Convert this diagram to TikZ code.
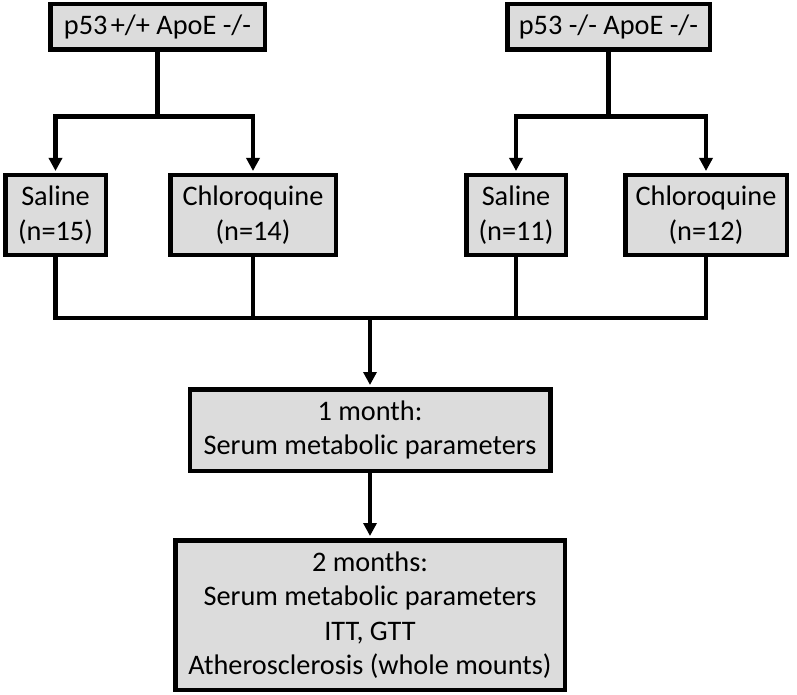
\documentclass[tikz,border=0pt]{standalone}
\usepackage{fontspec}
\setmainfont{Carlito}
\usetikzlibrary{arrows.meta}
\definecolor{boxfill}{RGB}{220,220,220}
\tikzset{
  box/.style={draw=black, fill=boxfill, line width=4.5pt, rectangle, inner sep=0pt, align=center,
    font=\fontsize{28.3}{34.5}\selectfont},
  conn/.style={line width=4.3pt, line join=miter},
  arr/.style={conn, -{Triangle[length=13pt,width=13pt]}, shorten >=2pt}
}
\begin{document}
\begin{tikzpicture}[x=1pt,y=-1pt]
\useasboundingbox (0,0) rectangle (797,695);
\node[box, minimum width=214.5pt, minimum height=45.5pt] (A) at (157.5,27) {p53\hspace{0.12em}+/+ ApoE -/-};
\node[box, minimum width=202.5pt, minimum height=45.5pt] (B) at (608.5,27) {p53 -/- ApoE -/-};
\node[box, minimum width=100.5pt, minimum height=79.5pt] (S1) at (55.5,215) {Saline\\(n=15)};
\node[box, minimum width=165.5pt, minimum height=79.5pt] (C1) at (253,215) {Chloroquine\\(n=14)};
\node[box, minimum width=99.5pt, minimum height=79.5pt] (S2) at (516,215) {Saline\\(n=11)};
\node[box, minimum width=161.5pt, minimum height=79.5pt] (C2) at (706,215) {Chloroquine\\(n=12)};
\node[box, minimum width=360.5pt, minimum height=81.5pt] (M1) at (370,430) {1 month:\\Serum metabolic parameters};
\node[box, minimum width=389.5pt, minimum height=149.5pt] (M2) at (370,615) {2 months:\\Serum metabolic parameters\\ITT, GTT\\Atherosclerosis (whole mounts)};
\coordinate (sa) at (157.5,116.5);
\coordinate (sb) at (608.5,116.5);
\coordinate (j) at (370,318);
% splits
\draw[conn] (A.south) -- (sa);
\draw[arr] (sa) -| (S1.north);
\draw[arr] (sa) -| (C1.north);
\draw[conn] (B.south) -- (sb);
\draw[arr] (sb) -| (S2.north);
\draw[arr] (sb) -| (C2.north);
% merge
\draw[conn] (S1.south) |- (j);
\draw[conn] (C2.south) |- (j);
\draw[conn] (C1.south) -- (C1.south |- j);
\draw[conn] (S2.south) -- (S2.south |- j);
\draw[arr] (j) -- (M1.north);
\draw[arr] (M1.south) -- (M2.north);
\end{tikzpicture}
\end{document}
